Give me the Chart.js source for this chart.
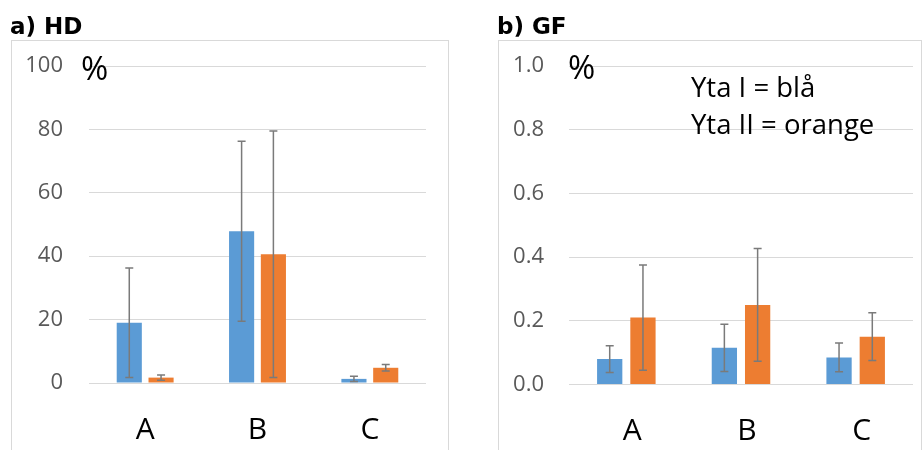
<!DOCTYPE html>
<html><head><meta charset="utf-8">
<script src="https://cdn.jsdelivr.net/npm/chart.js@4.4.0/dist/chart.umd.min.js"></script>
<style>
html,body{margin:0;padding:0;background:#fff;width:923px;height:450px;overflow:hidden}
.box{position:absolute;border:1px solid #d9d9d9;box-sizing:border-box}
#b1{left:11px;top:40px;width:438px;height:430px}
#b2{left:498px;top:40px;width:424px;height:430px}
#w1{position:absolute;left:0;top:0;width:470px;height:450px}
#w2{position:absolute;left:470px;top:0;width:453px;height:450px}
</style></head><body>
<div class="box" id="b1"></div><div class="box" id="b2"></div>
<div id="w1"><canvas id="c1"></canvas></div>
<div id="w2"><canvas id="c2"></canvas></div>
<script>
// ---- data ----
const categories = ['A', 'B', 'C'];
const hdYtaI = [19.0, 47.9, 1.3];
const hdYtaIErr = [17.3, 28.4, 0.8];
const hdYtaII = [1.7, 40.6, 4.8];
const hdYtaIIErr = [0.8, 38.9, 1.0];
const gfYtaI = [0.080, 0.115, 0.085];
const gfYtaIErr = [0.042, 0.074, 0.045];
const gfYtaII = [0.210, 0.250, 0.150];
const gfYtaIIErr = [0.165, 0.177, 0.075];
const hdTicks = [0, 20, 40, 60, 80, 100];
const gfTicks = [0.0, 0.2, 0.4, 0.6, 0.8, 1.0];

const BLUE = '#5B9BD5', ORANGE = '#ED7D31';

const errorBars = {
  id: 'errorBars',
  afterDatasetsDraw(chart) {
    const ctx = chart.ctx, y = chart.scales.y;
    chart.data.datasets.forEach((ds, i) => {
      const meta = chart.getDatasetMeta(i);
      meta.data.forEach((bar, j) => {
        const v = ds.data[j], e = ds.errors[j];
        const x = bar.x;
        const yt = y.getPixelForValue(v + e), yb = y.getPixelForValue(v - e);
        ctx.save();
        ctx.strokeStyle = '#7a7a7a';
        ctx.lineWidth = 1.5;
        ctx.beginPath();
        ctx.moveTo(x, yt); ctx.lineTo(x, yb);
        ctx.moveTo(x - 4, yt); ctx.lineTo(x + 4, yt);
        ctx.moveTo(x - 4, yb); ctx.lineTo(x + 4, yb);
        ctx.stroke();
        ctx.restore();
      });
    });
  }
};

const overlayText = {
  id: 'overlayText',
  afterDraw(chart, args, opts) {
    const ctx = chart.ctx;
    (opts.items || []).forEach(t => {
      ctx.save();
      ctx.font = t.font;
      ctx.fillStyle = t.color || '#000';
      ctx.textAlign = 'left';
      ctx.textBaseline = 'alphabetic';
      ctx.fillText(t.text, t.x, t.y);
      ctx.restore();
    });
  }
};

function makeChart(id, a, aErr, b, bErr, ticks, yMax, fmt, cfg) {
  return new Chart(document.getElementById(id), {
    type: 'bar',
    data: {
      labels: categories,
      datasets: [
        { label: 'Yta I', data: a, errors: aErr, backgroundColor: BLUE, borderWidth: 0,
          categoryPercentage: cfg.cat, barPercentage: cfg.bar },
        { label: 'Yta II', data: b, errors: bErr, backgroundColor: ORANGE, borderWidth: 0,
          categoryPercentage: cfg.cat, barPercentage: cfg.bar }
      ]
    },
    options: {
      responsive: true,
      maintainAspectRatio: false,
      animation: false,
      events: [],
      layout: { padding: { left: 0, right: cfg.right, top: cfg.top, bottom: cfg.bottom } },
      plugins: {
        legend: { display: false },
        tooltip: { enabled: false },
        overlayText: { items: cfg.texts }
      },
      scales: {
        x: {
          grid: { display: false },
          border: { display: false },
          ticks: { color: '#000', font: { family: 'Open Sans', size: 30 }, padding: 21, labelOffset: cfg.labelOffset },
          afterFit: s => { s.height = 57; }
        },
        y: {
          min: 0, max: yMax,
          afterBuildTicks: s => { s.ticks = ticks.map(v => ({ value: v })); },
          afterFit: s => { s.width = cfg.yWidth; },
          grid: { color: '#d9d9d9', lineWidth: 1, drawTicks: false },
          border: { display: false },
          ticks: {
            color: '#595959', font: { family: 'Open Sans', size: 22 }, padding: cfg.tickPad,
            callback: v => fmt(v)
          }
        }
      }
    },
    plugins: [errorBars, overlayText]
  });
}

makeChart('c1', hdYtaI, hdYtaIErr, hdYtaII, hdYtaIIErr, hdTicks, 100, v => String(v), {
  cat: 0.566, bar: 0.79, right: 44, top: 66, bottom: 10, yWidth: 89, tickPad: 26, labelOffset: 0,
  texts: [
    { text: 'a) HD', x: 10, y: 33.5, font: 'bold 23px "DejaVu Sans"' },
    { text: '%', x: 81, y: 80, font: '33px "Open Sans"' }
  ]
});

makeChart('c2', gfYtaI, gfYtaIErr, gfYtaII, gfYtaIIErr, gfTicks, 1.0, v => v.toFixed(1), {
  cat: 0.58, bar: 0.76, right: 10, top: 66, bottom: 8.5, yWidth: 99, tickPad: 25, labelOffset: 6,
  texts: [
    { text: 'b) GF', x: 27, y: 33.5, font: 'bold 23px "DejaVu Sans"' },
    { text: '%', x: 98, y: 78.5, font: '33px "Open Sans"' },
    { text: 'Yta I = blå', x: 221, y: 96.5, font: '27.5px "Open Sans"' },
    { text: 'Yta II = orange', x: 221, y: 134, font: '27.5px "Open Sans"' }
  ]
});
</script>
</body></html>
